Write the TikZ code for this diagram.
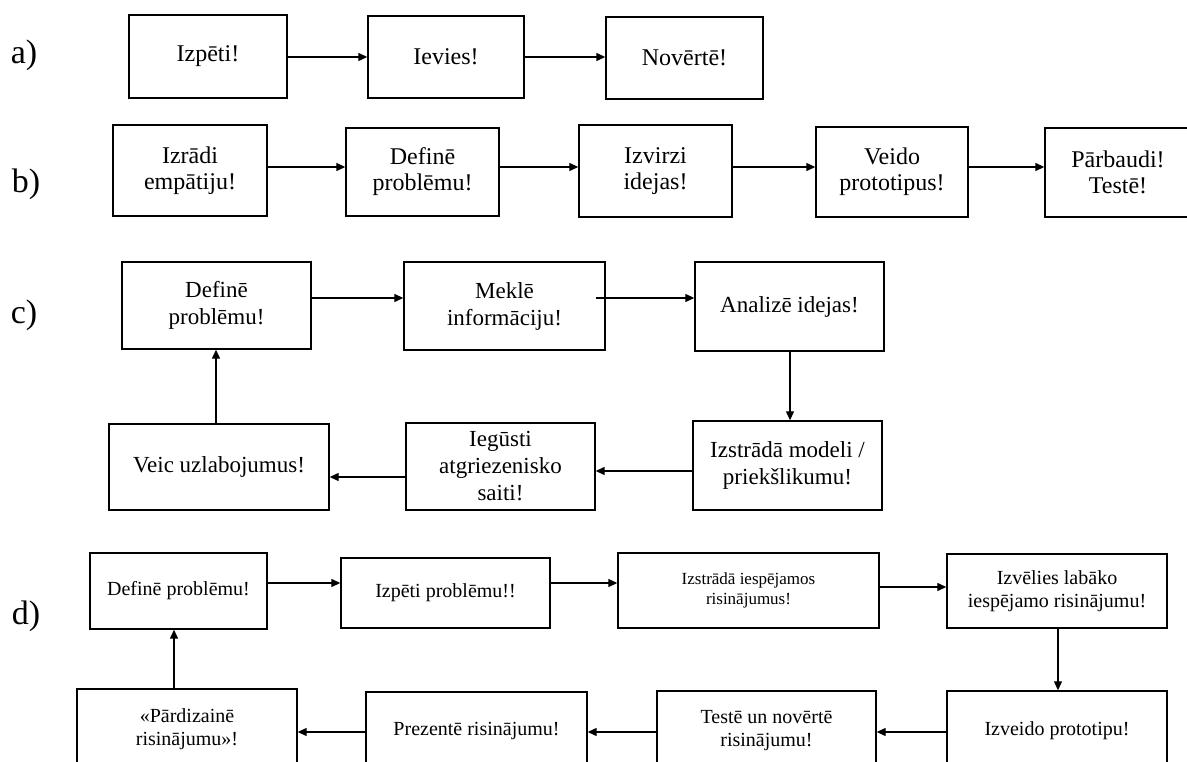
\documentclass[tikz,border=0pt]{standalone}
\usepackage{fontspec}
\setmainfont{Liberation Serif}
\usetikzlibrary{arrows.meta}
\begin{document}
\begin{tikzpicture}[x=1pt,y=-1pt,
  box/.style={draw=black, line width=1.4pt, inner sep=0pt, align=center, fill=white},
  fa/.style={font=\fontsize{24}{26}\selectfont},
  fc/.style={font=\fontsize{23}{27}\selectfont},
  fd/.style={font=\fontsize{20}{23}\selectfont},
  fds/.style={font=\fontsize{17}{20}\selectfont},
  lbl/.style={font=\fontsize{34}{36}\selectfont, inner sep=0pt},
  arr/.style={line width=1.3pt, -{Triangle[length=9pt,width=8pt]}}]
\useasboundingbox (0,0) rectangle (1187,762);
\clip (0,0) rectangle (1187,762);
\fill[white] (0,0) rectangle (1187,762);

% labels
\node[lbl] (la) at (24,55) {a)};
\node[lbl] (lb) at (26,184) {b)};
\node[lbl] (lc) at (24,315) {c)};
\node[lbl] (ld) at (26,616) {d)};

% row a
\node[box,fa,minimum width=158pt,minimum height=83pt] (a1) at (208,56.5) {Izpēti!};
\node[box,fa,minimum width=156pt,minimum height=82pt] (a2) at (446,57) {Ievies!};
\node[box,fa,minimum width=157pt,minimum height=82pt] (a3) at (684.5,58) {Novērtē!};

% row b
\node[box,fa,minimum width=154pt,minimum height=91pt] (b1) at (190,170.5) {Izrādi\\empātiju!};
\node[box,fa,minimum width=153pt,minimum height=88pt] (b2) at (422.5,172) {Definē\\problēmu!};
\node[box,fa,minimum width=153pt,minimum height=92pt] (b3) at (655.5,171) {Izvirzi\\idejas!};
\node[box,fa,minimum width=152pt,minimum height=90pt] (b4) at (892,172) {Veido\\prototipus!};
\node[box,fa,minimum width=146pt,minimum height=89pt] (b5) at (1118,172.5) {Pārbaudi!\\Testē!};

% row c
\node[box,fc,minimum width=189pt,minimum height=87pt] (c1) at (216.5,305.5) {Definē\\problēmu!};
\node[box,fc,minimum width=201pt,minimum height=88pt] (c2) at (504.5,306) {Meklē\\informāciju!};
\node[box,fc,minimum width=189pt,minimum height=89pt] (c3) at (789.5,306.5) {Analizē idejas!};
\node[box,fc,minimum width=189pt,minimum height=89pt] (c4) at (787.5,465.5) {Izstrādā modeli /\\priekšlikumu!};
\node[box,fc,minimum width=189pt,minimum height=87pt] (c5) at (500.5,466.5) {Iegūsti\\atgriezenisko\\saiti!};
\node[box,fc,minimum width=220pt,minimum height=86pt] (c6) at (219,467) {Veic uzlabojumus!};

% row d
\node[box,fd,minimum width=177pt,minimum height=76pt] (d1) at (178.5,591) {Definē problēmu!};
\node[box,fd,minimum width=209pt,minimum height=70pt] (d2) at (445.5,593) {Izpēti problēmu!!};
\node[box,fds,minimum width=261pt,minimum height=75pt] (d3) at (748.5,590.5) {Izstrādā iespējamos\\risinājumus!};
\node[box,fd,minimum width=220pt,minimum height=74pt] (d4) at (1057,591) {Izvēlies labāko\\iespējamo risinājumu!};
\node[box,fd,minimum width=220pt,minimum height=79pt] (d5) at (1057,730.5) {Izveido prototipu!};
\node[box,fd,minimum width=219pt,minimum height=79pt] (d6) at (766.5,730.5) {Testē un novērtē\\risinājumu!};
\node[box,fd,minimum width=221pt,minimum height=78pt] (d7) at (476.5,731) {Prezentē risinājumu!};
\node[box,fd,minimum width=220pt,minimum height=81pt] (d8) at (187,729.5) {«Pārdizainē\\risinājumu»!};

% arrow levels
\coordinate (ya) at (0,57);
\coordinate (yb) at (0,167);
\coordinate (yc1) at (0,298);
\coordinate (yc4) at (0,471);
\coordinate (yc5) at (0,477);
\coordinate (yd1) at (0,583);
\coordinate (yd3) at (0,587);
\coordinate (yd5) at (0,732);
\coordinate (xc3) at (790,0);
\coordinate (xc6) at (216,0);
\coordinate (xd4) at (1058,0);
\coordinate (xd8) at (174,0);

% connectors
\draw[arr] (a1.east |- ya) -- (a2.west |- ya);
\draw[arr] (a2.east |- ya) -- (a3.west |- ya);

\draw[arr] (b1.east |- yb) -- (b2.west |- yb);
\draw[arr] (b2.east |- yb) -- (b3.west |- yb);
\draw[arr] (b3.east |- yb) -- (b4.west |- yb);
\draw[arr] (b4.east |- yb) -- (b5.west |- yb);

\draw[arr] (c1.east |- yc1) -- (c2.west |- yc1);
\draw[arr] ([xshift=-10pt]c2.east |- yc1) -- (c3.west |- yc1);
\draw[arr] (c3.south -| xc3) -- (c4.north -| xc3);
\draw[arr] (c4.west |- yc4) -- (c5.east |- yc4);
\draw[arr] (c5.west |- yc5) -- (c6.east |- yc5);
\draw[arr] (c6.north -| xc6) -- (c1.south -| xc6);

\draw[arr] (d1.east |- yd1) -- (d2.west |- yd1);
\draw[arr] (d2.east |- yd1) -- (d3.west |- yd1);
\draw[arr] (d3.east |- yd3) -- (d4.west |- yd3);
\draw[arr] (d4.south -| xd4) -- (d5.north -| xd4);
\draw[arr] (d5.west |- yd5) -- (d6.east |- yd5);
\draw[arr] (d6.west |- yd5) -- (d7.east |- yd5);
\draw[arr] (d7.west |- yd5) -- (d8.east |- yd5);
\draw[arr] (d8.north -| xd8) -- (d1.south -| xd8);
\end{tikzpicture}
\end{document}
